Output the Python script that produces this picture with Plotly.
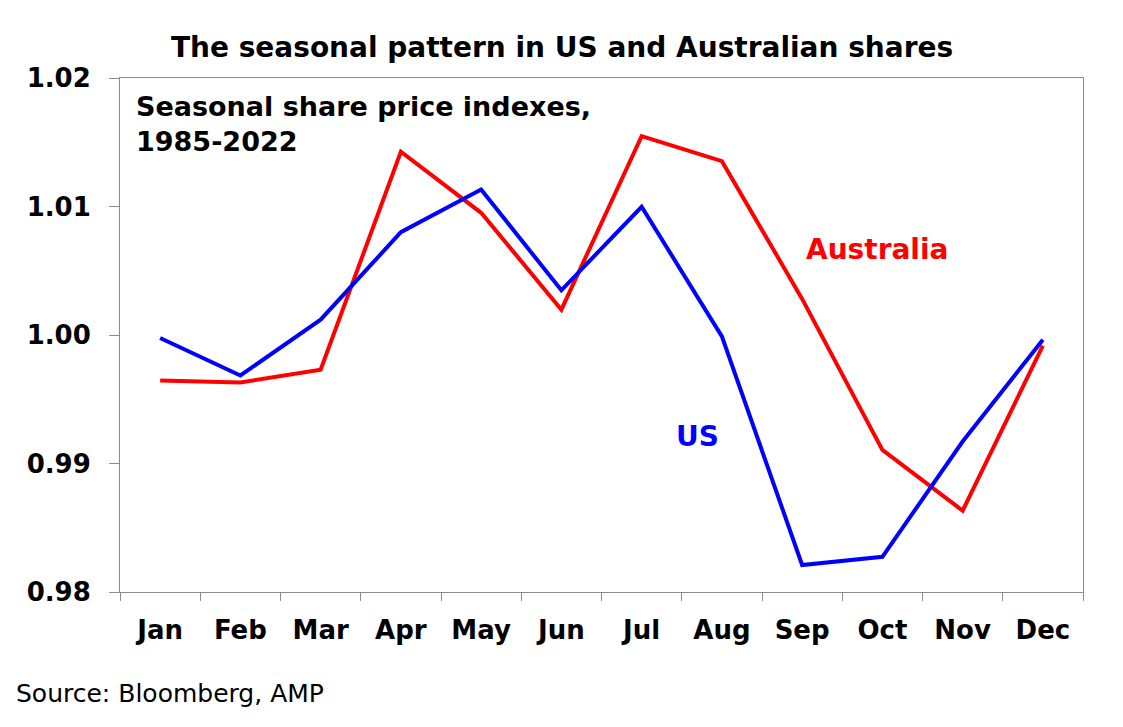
import plotly.graph_objects as go

months = ['Jan', 'Feb', 'Mar', 'Apr', 'May', 'Jun', 'Jul', 'Aug', 'Sep', 'Oct', 'Nov', 'Dec']
us = [0.99977, 0.99685, 1.00119, 1.00800, 1.01132, 1.00348, 1.00998, 0.99989, 0.98210, 0.98274, 0.99171, 0.99963]
australia = [0.99646, 0.99631, 0.99730, 1.01426, 1.00951, 1.00197, 1.01548, 1.01353, 1.00281, 0.99106, 0.98633, 0.99917]
y_ticks = [0.98, 0.99, 1.00, 1.01, 1.02]

# page has an 8px body margin, so the figure is drawn 8px smaller
font_family = 'DejaVu Sans, Arial, sans-serif'
axis_grey = '#8c8c8c'

fig = go.Figure()
fig.add_trace(go.Scatter(x=months, y=australia, mode='lines', name='Australia',
                         line=dict(color='#ff0000', width=4)))
fig.add_trace(go.Scatter(x=months, y=us, mode='lines', name='US',
                         line=dict(color='#0000ff', width=4)))

fig.update_layout(
    width=1115, height=719,
    margin=dict(l=112, r=40, t=70, b=135),
    paper_bgcolor='white', plot_bgcolor='white',
    showlegend=False,
    font=dict(family=font_family, color='black'),
    title=dict(text='<b>The seasonal pattern in US and Australian shares</b>',
               xref='paper', x=0.459, xanchor='center',
               yref='container', y=0.945, yanchor='middle',
               font=dict(size=28, color='black')),
)

fig.update_xaxes(
    type='category', range=[-0.5, 11.5],
    showline=True, linecolor=axis_grey, linewidth=1, mirror=True,
    ticks='outside', tickson='boundaries', ticklen=8, tickcolor=axis_grey,
    showgrid=False, zeroline=False,
    tickfont=dict(size=26, color='black', family=font_family, weight='bold'),
    ticklabelstandoff=15,
)
fig.update_yaxes(
    range=[0.98, 1.02], tickvals=y_ticks, tickformat='.2f',
    showline=True, linecolor=axis_grey, linewidth=1, mirror=True,
    ticks='outside', ticklen=10, tickcolor=axis_grey,
    showgrid=False, zeroline=False,
    tickfont=dict(size=26, color='black', family=font_family, weight='bold'),
    ticklabelstandoff=13,
)

# in-plot labels
fig.add_annotation(xref='paper', yref='paper', x=0.0145, y=0.9105, xanchor='left', yanchor='middle',
                   text='<b>Seasonal share price indexes,<br>1985-2022</b>', showarrow=False, align='left',
                   font=dict(size=27, color='black'))
fig.add_annotation(xref='x', yref='paper', x=8.93, y=0.667, xanchor='center', yanchor='middle',
                   text='<b>Australia</b>', showarrow=False, font=dict(size=28, color='#ff0000'))
fig.add_annotation(xref='x', yref='paper', x=6.69, y=0.3035, xanchor='center', yanchor='middle',
                   text='<b>US</b>', showarrow=False, font=dict(size=28, color='#0000ff'))

# source note
fig.add_annotation(xref='paper', yref='paper', x=-0.11, y=-0.198, xanchor='left', yanchor='middle',
                   text='Source: Bloomberg, AMP', showarrow=False,
                   font=dict(size=25, color='black'))

fig.write_html("out.html")
